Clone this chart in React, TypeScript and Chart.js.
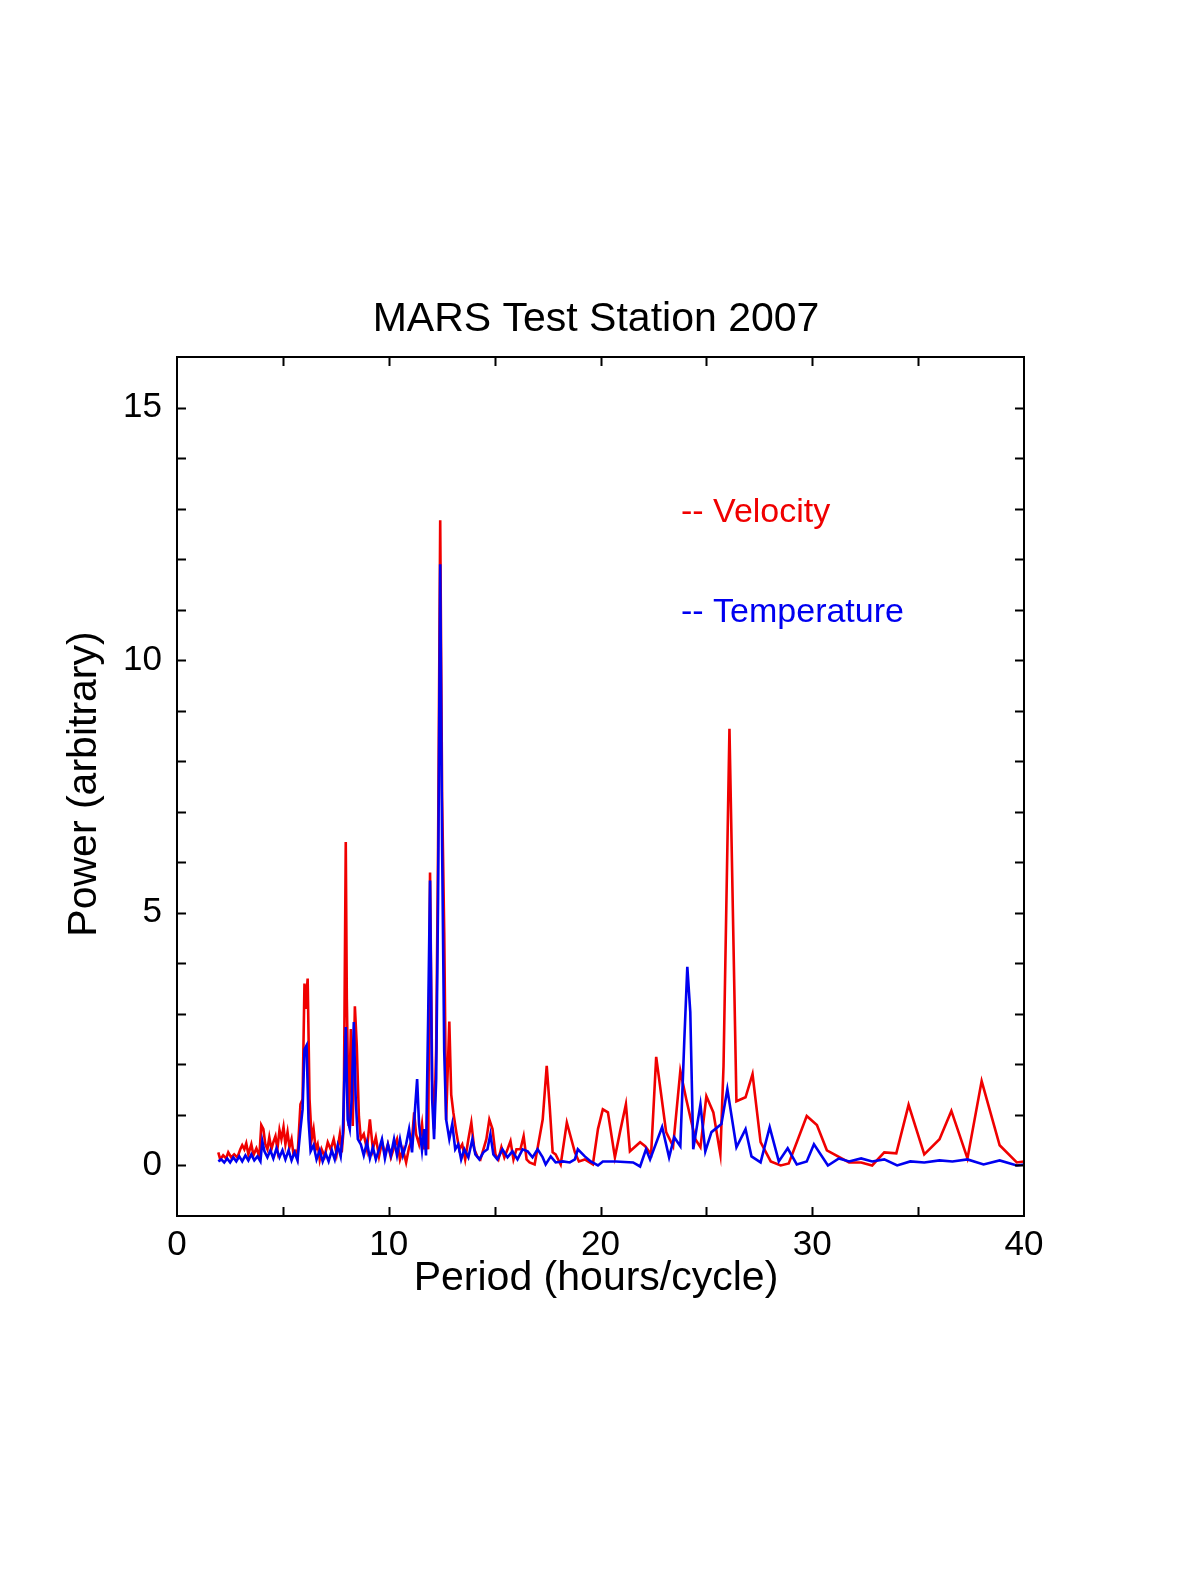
import { useRef, useEffect } from "react";
import { Chart, registerables } from "chart.js";
Chart.register(...registerables);

const TITLE = "MARS Test Station 2007";
const X_TITLE = "Period (hours/cycle)";
const Y_TITLE = "Power (arbitrary)";
const SERIES_NAMES = ["-- Velocity", "-- Temperature"];

const X_MAJOR = [0, 10, 20, 30, 40];
const Y_MAJOR = [0, 5, 10, 15];

// velocity periodogram (hours/cycle, power)
const velocityPeriods = [
  1.95, 2.04, 2.18, 2.32, 2.42, 2.56, 2.7, 2.85, 2.99, 3.08, 3.18, 3.27, 3.37, 3.51, 3.61, 3.75, 3.89,
  3.98, 4.08, 4.17, 4.27, 4.36, 4.46, 4.55, 4.65, 4.74, 4.84, 4.93, 5.03, 5.12, 5.22, 5.31, 5.41, 5.5,
  5.6, 5.69, 5.83, 5.93, 6.02, 6.07, 6.17, 6.26, 6.36, 6.45, 6.55, 6.64, 6.74, 6.83, 6.97, 7.12, 7.26,
  7.4, 7.54, 7.69, 7.78, 7.87, 7.97, 8.02, 8.11, 8.21, 8.3, 8.4, 8.49, 8.59, 8.68, 8.82, 8.97, 9.11,
  9.25, 9.39, 9.54, 9.68, 9.82, 9.96, 10.1, 10.25, 10.39, 10.53, 10.67, 10.82, 10.96, 11.1, 11.2,
  11.29, 11.43, 11.57, 11.67, 11.76, 11.86, 11.95, 12.05, 12.14, 12.24, 12.33, 12.43, 12.52, 12.62,
  12.71, 12.86, 12.95, 13.05, 13.19, 13.33, 13.47, 13.61, 13.76, 13.9, 14.04, 14.18, 14.33, 14.47,
  14.61, 14.75, 14.9, 15.04, 15.18, 15.32, 15.46, 15.61, 15.75, 15.89, 16.03, 16.22, 16.37, 16.51,
  16.65, 16.89, 17.27, 17.46, 17.6, 17.74, 17.88, 18.12, 18.41, 18.79, 18.98, 19.26, 19.64, 19.88,
  20.11, 20.35, 20.68, 20.92, 21.2, 21.39, 21.87, 22.11, 22.39, 22.63, 23.1, 23.43, 23.77, 24.05,
  24.48, 24.72, 25.0, 25.33, 25.66, 25.81, 26.09, 26.42, 26.85, 27.18, 27.56, 28.04, 28.51, 28.89,
  29.74, 30.22, 30.69, 31.74, 32.31, 32.83, 33.4, 33.97, 34.55, 35.29, 36.01, 36.57, 37.33, 38.0,
  38.85, 39.66, 40.0,
];
const velocityPower = [
  0.26, 0.12, 0.2, 0.14, 0.26, 0.16, 0.22, 0.16, 0.32, 0.4, 0.32, 0.44, 0.22, 0.42, 0.2, 0.34, 0.18,
  0.8, 0.72, 0.42, 0.32, 0.56, 0.32, 0.46, 0.58, 0.32, 0.7, 0.52, 0.76, 0.42, 0.66, 0.36, 0.52, 0.22,
  0.28, 0.16, 1.21, 1.31, 3.6, 3.1, 3.7, 1.31, 0.52, 0.72, 0.32, 0.42, 0.12, 0.32, 0.18, 0.46, 0.32,
  0.52, 0.22, 0.62, 0.26, 0.72, 6.4, 3.3, 0.78, 2.7, 0.78, 3.15, 2.37, 0.97, 0.52, 0.62, 0.32, 0.91,
  0.32, 0.56, 0.18, 0.46, 0.22, 0.42, 0.16, 0.36, 0.52, 0.12, 0.32, 0.06, 0.36, 0.52, 1.05,
  0.62, 0.42, 0.82, 0.32, 0.72, 0.32, 5.8, 1.7, 0.72, 2.3, 6.3, 12.77, 7.3, 4.6,
  0.9, 2.85, 1.4, 1.05, 0.66, 0.32, 0.42, 0.12, 0.52, 0.85, 0.32, 0.18, 0.12, 0.32,
  0.52, 0.91, 0.72, 0.22, 0.12, 0.36, 0.16, 0.32, 0.48, 0.12, 0.32, 0.32, 0.58, 0.12,
  0.06, 0.02, 0.91, 1.97, 1.17, 0.26, 0.22, 0.02, 0.85, 0.26, 0.08, 0.12, 0.02, 0.72,
  1.11, 1.05, 0.16, 0.66, 1.21, 0.28, 0.46, 0.38, 0.22, 2.15, 0.66, 0.38, 1.87, 1.31,
  0.52, 0.36, 1.37, 1.05, 0.22, 1.97, 8.64, 1.27, 1.35, 1.81, 0.46, 0.08, 0.0, 0.04,
  0.98, 0.8, 0.3, 0.06, 0.06, 0.0, 0.26, 0.24, 1.2, 0.22, 0.52, 1.08, 0.14, 1.67,
  0.4, 0.06, 0.08,
];

// temperature periodogram (hours/cycle, power)
const temperaturePeriods = [
  1.95, 2.09, 2.23, 2.37, 2.51, 2.66, 2.8, 2.94, 3.08, 3.23, 3.37, 3.51, 3.65, 3.8, 3.94, 4.03, 4.13,
  4.27, 4.41, 4.55, 4.7, 4.84, 4.98, 5.12, 5.27, 5.41, 5.55, 5.69, 5.83, 5.93, 6.02, 6.12, 6.21, 6.31,
  6.45, 6.59, 6.74, 6.88, 7.02, 7.16, 7.31, 7.45, 7.59, 7.73, 7.83, 7.97, 8.06, 8.16, 8.25, 8.35,
  8.44, 8.54, 8.68, 8.82, 8.97, 9.11, 9.25, 9.39, 9.54, 9.68, 9.82, 9.96, 10.1, 10.25, 10.39, 10.53,
  10.67, 10.82, 10.96, 11.1, 11.24, 11.34, 11.43, 11.57, 11.67, 11.76, 11.86, 11.95, 12.05, 12.14,
  12.24, 12.33, 12.43, 12.52, 12.62, 12.71, 12.86, 13.0, 13.14, 13.28, 13.42, 13.57, 13.76, 13.95,
  14.09, 14.28, 14.47, 14.66, 14.8, 14.94, 15.13, 15.37, 15.61, 15.84, 16.08, 16.32, 16.56, 16.79,
  17.03, 17.27, 17.41, 17.65, 17.88, 18.22, 18.55, 18.79, 18.93, 19.26, 19.54, 19.88, 20.11, 20.73,
  21.54, 21.87, 22.15, 22.34, 22.91, 23.24, 23.48, 23.77, 23.96, 24.1, 24.24, 24.38, 24.72, 24.95,
  25.24, 25.71, 25.99, 26.42, 26.85, 27.13, 27.56, 27.99, 28.42, 28.84, 29.27, 29.74, 30.08, 30.74,
  31.26, 31.74, 32.31, 32.83, 33.4, 34.01, 34.63, 35.29, 36.01, 36.62, 37.33, 38.09, 38.85, 39.66,
  40.0,
];
const temperaturePower = [
  0.08, 0.12, 0.06, 0.14, 0.06, 0.16, 0.08, 0.18, 0.08, 0.2, 0.1, 0.22, 0.1, 0.18, 0.08, 0.48, 0.28,
  0.16, 0.3, 0.14, 0.34, 0.16, 0.3, 0.12, 0.3, 0.1, 0.26, 0.1, 0.72, 1.11, 2.3, 2.38, 0.91, 0.28,
  0.4, 0.12, 0.3, 0.08, 0.24, 0.08, 0.3, 0.12, 0.4, 0.18, 0.62, 2.74, 0.91, 0.72, 1.31, 2.84,
  1.31, 0.52, 0.42, 0.2, 0.46, 0.14, 0.36, 0.12, 0.32, 0.52, 0.14, 0.42, 0.2, 0.52, 0.2, 0.52,
  0.2, 0.42, 0.72, 0.26, 1.11, 1.71, 0.82, 0.3, 0.72, 0.2, 2.9, 5.64, 1.31, 0.52,
  1.71, 5.3, 11.9, 6.3, 2.25, 0.91, 0.52, 0.82, 0.32, 0.42, 0.12, 0.32, 0.16, 0.52,
  0.22, 0.12, 0.26, 0.32, 0.62, 0.22, 0.12, 0.32, 0.16, 0.28, 0.12, 0.32, 0.28, 0.16,
  0.32, 0.16, 0.02, 0.18, 0.06, 0.08, 0.06, 0.12, 0.32, 0.18, 0.08, 0.0, 0.08, 0.08,
  0.06, -0.02, 0.32, 0.12, 0.76, 0.16, 0.56, 0.38, 2.5, 3.93, 3.04, 0.32, 1.21, 0.28,
  0.66, 0.82, 1.51, 0.36, 0.72, 0.18, 0.06, 0.76, 0.08, 0.34, 0.02, 0.08, 0.42, 0.0,
  0.14, 0.08, 0.14, 0.08, 0.12, 0.0, 0.08, 0.06, 0.1, 0.08, 0.12, 0.02, 0.1, 0.0,
  0.02,
];

const RED = "#f00000";
const BLUE = "#0000f0";
const FONT = '"Liberation Sans", Arial, sans-serif';

const framePlugin = {
  id: "framePlugin",
  afterDraw: (chart: any) => {
    const ctx = chart.ctx;
    const { left, right, top, bottom } = chart.chartArea;
    const xs = chart.scales.x;
    const ys = chart.scales.y;
    ctx.save();
    ctx.strokeStyle = "#000";
    ctx.lineWidth = 2;
    ctx.strokeRect(left, top, right - left, bottom - top);

    // inward tick marks on all four sides
    ctx.beginPath();
    xs.ticks.forEach((t: any) => {
      const px = Math.round(xs.getPixelForValue(t.value)) + 0.5;
      if (px <= left + 1 || px >= right - 1) return;
      ctx.moveTo(px, bottom);
      ctx.lineTo(px, bottom - 9);
      ctx.moveTo(px, top);
      ctx.lineTo(px, top + 9);
    });
    ys.ticks.forEach((t: any) => {
      const py = Math.round(ys.getPixelForValue(t.value)) + 0.5;
      if (py <= top + 1 || py >= bottom - 1) return;
      ctx.moveTo(left, py);
      ctx.lineTo(left + 9, py);
      ctx.moveTo(right, py);
      ctx.lineTo(right - 9, py);
    });
    ctx.stroke();

    ctx.fillStyle = "#000";
    ctx.font = `41px ${FONT}`;
    ctx.textAlign = "center";
    ctx.textBaseline = "alphabetic";
    ctx.fillText(TITLE, 596, 331);
    ctx.fillText(X_TITLE, 596, 1290);

    ctx.save();
    ctx.translate(96, 784);
    ctx.rotate(-Math.PI / 2);
    ctx.fillText(Y_TITLE, 0, 0);
    ctx.restore();

    // text legend
    ctx.font = `34px ${FONT}`;
    ctx.textAlign = "left";
    ctx.fillStyle = RED;
    ctx.fillText(SERIES_NAMES[0], 681, 522);
    ctx.fillStyle = BLUE;
    ctx.fillText(SERIES_NAMES[1], 681, 622);
    ctx.restore();
  },
};

const App = () => {
  const chartRef = useRef<HTMLCanvasElement>(null);

  useEffect(() => {
    document.body.style.margin = "0";
    const chart = new Chart(chartRef.current!, {
      type: "line",
      data: {
        datasets: [
          {
            label: "Velocity",
            data: velocityPeriods.map((p, i) => ({ x: p, y: velocityPower[i] })),
            borderColor: RED,
            borderWidth: 2.6,
            pointRadius: 0,
            tension: 0,
            fill: false,
            order: 2,
          },
          {
            label: "Temperature",
            data: temperaturePeriods.map((p, i) => ({ x: p, y: temperaturePower[i] })),
            borderColor: BLUE,
            borderWidth: 2.6,
            pointRadius: 0,
            tension: 0,
            fill: false,
            order: 1,
          },
        ],
      },
      options: {
        responsive: false,
        animation: false,
        devicePixelRatio: 1,
        layout: { padding: { top: 357, right: 176, bottom: 299, left: 0 } },
        plugins: {
          legend: { display: false },
          title: { display: false },
          tooltip: { enabled: false },
        },
        scales: {
          x: {
            type: "linear",
            min: 0,
            max: 40,
            afterFit: (scale: any) => {
              scale.height = 60;
            },
            grid: { display: false, drawTicks: false },
            border: { display: false },
            ticks: {
              stepSize: 5,
              autoSkip: false,
              maxRotation: 0,
              padding: 8,
              color: "#000",
              font: { family: FONT, size: 35 },
              callback: (v: any) => (X_MAJOR.includes(Number(v)) ? String(v) : ""),
            },
          },
          y: {
            min: -1,
            max: 16,
            afterFit: (scale: any) => {
              scale.width = 177;
            },
            grid: { display: false, drawTicks: false },
            border: { display: false },
            ticks: {
              stepSize: 1,
              autoSkip: false,
              padding: 15,
              color: "#000",
              font: { family: FONT, size: 35 },
              callback: (v: any) => (Y_MAJOR.includes(Number(v)) ? String(v) : ""),
            },
          },
        },
      },
      plugins: [framePlugin],
    });

    return () => {
      chart.destroy();
    };
  }, []);

  return (
    <div style={{ width: 1200, height: 1575, background: "#fff" }}>
      <canvas ref={chartRef} width={1200} height={1575} />
    </div>
  );
};

export default App;
